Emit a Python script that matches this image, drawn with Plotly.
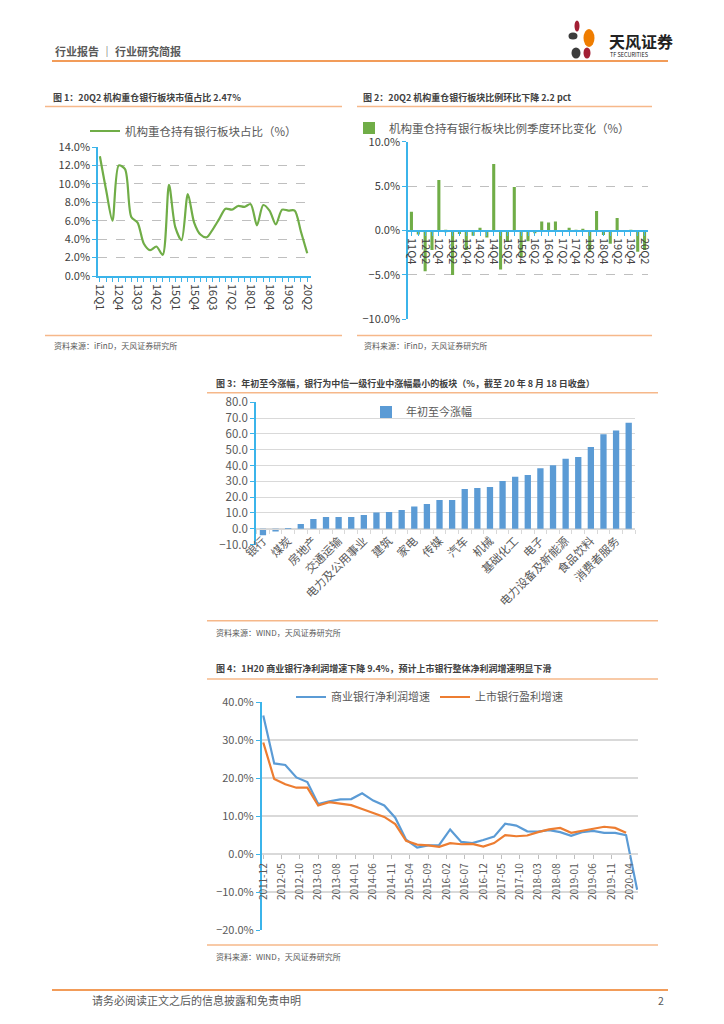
import plotly.graph_objects as go

W, H = 724, 1024
def X(px): return px / W
def Y(py): return 1 - py / H

FONT = "Noto Sans CJK SC"
CYAN = "#3BB4EA"
GREEN = "#70AD47"
BLUE = "#5B9BD5"
ORANGE = "#ED7D31"
SEC_ORANGE = "#F6B88A"
HEAD_ORANGE = "#EE7B22"
TXT = "#404040"
GRAY = "#595959"

# ---------------- data ----------------
# Chart 1
c1_name = "机构重仓持有银行板块占比（%）"
c1_quarters = ["12Q1", "12Q2", "12Q3", "12Q4", "13Q1", "13Q2", "13Q3", "13Q4",
               "14Q1", "14Q2", "14Q3", "14Q4", "15Q1", "15Q2", "15Q3", "15Q4",
               "16Q1", "16Q2", "16Q3", "16Q4", "17Q1", "17Q2", "17Q3", "17Q4",
               "18Q1", "18Q2", "18Q3", "18Q4", "19Q1", "19Q2", "19Q3", "19Q4",
               "20Q1", "20Q2"]
c1_values = [13.0, 9.3, 6.0, 12.0, 11.6, 6.4, 5.8, 3.5, 2.8, 3.2, 2.3, 9.9,
             5.3, 3.9, 8.9, 5.8, 4.5, 4.2, 5.1, 6.2, 7.3, 7.2, 7.6, 7.5,
             7.8, 5.5, 7.7, 7.1, 5.6, 7.2, 7.1, 7.1, 4.8, 2.47]

# Chart 2
c2_name = "机构重仓持有银行板块比例季度环比变化（%）"
c2_quarters = ["11Q4", "12Q1", "12Q2", "12Q3", "12Q4", "13Q1", "13Q2", "13Q3",
               "13Q4", "14Q1", "14Q2", "14Q3", "14Q4", "15Q1", "15Q2", "15Q3",
               "15Q4", "16Q1", "16Q2", "16Q3", "16Q4", "17Q1", "17Q2", "17Q3",
               "17Q4", "18Q1", "18Q2", "18Q3", "18Q4", "19Q1", "19Q2", "19Q3",
               "19Q4", "20Q1", "20Q2"]
c2_values = [2.1, -0.45, -4.6, -2.2, 5.7, -0.2, -5.0, -0.4, -2.2, -0.6, 0.3, -0.8,
             7.5, -4.4, -1.3, 4.9, -3.0, -1.2, -0.3, 1.0, 0.9, 1.0, 0.0, 0.3,
             -0.05, 0.15, -2.3, 2.2, -0.5, -1.5, 1.4, 0.0, -0.05, -2.4, -2.2]

# Chart 3
c3_name = "年初至今涨幅"
c3_industries = ["银行", "石油石化", "煤炭", "钢铁", "房地产", "综合金融", "交通运输",
                 "纺织服装", "电力及公用事业", "非银行金融", "建筑", "通信", "家电",
                 "商贸零售", "传媒", "综合", "汽车", "轻工制造", "机械", "计算机",
                 "基础化工", "建材", "电子", "有色金属", "电力设备及新能源", "农林牧渔",
                 "食品饮料", "医药", "消费者服务", "国防军工"]
c3_values = [-4.2, -1.8, -0.2, 3.0, 6.1, 7.4, 7.4, 7.4, 8.6, 10.3, 10.5, 11.8,
             14.1, 15.6, 18.1, 18.1, 25.1, 25.7, 26.4, 30.2, 32.9, 34.0, 38.2,
             40.1, 44.3, 45.4, 51.7, 59.7, 62.2, 67.1]

# Chart 4
c4_name_a = "商业银行净利润增速"
c4_name_b = "上市银行盈利增速"
c4_dates = ["2011-12", "2012-03", "2012-06", "2012-09", "2012-12", "2013-03",
            "2013-06", "2013-09", "2013-12", "2014-03", "2014-06", "2014-09",
            "2014-12", "2015-03", "2015-06", "2015-09", "2015-12", "2016-03",
            "2016-06", "2016-09", "2016-12", "2017-03", "2017-06", "2017-09",
            "2017-12", "2018-03", "2018-06", "2018-09", "2018-12", "2019-03",
            "2019-06", "2019-09", "2019-12", "2020-03", "2020-06"]
c4_commercial = [36.5, 23.9, 23.5, 20.2, 19.0, 13.2, 13.9, 14.4, 14.5, 16.0, 14.1,
                 12.8, 9.6, 3.8, 1.7, 2.3, 2.4, 6.5, 3.2, 2.9, 3.7, 4.6, 8.0, 7.5,
                 6.0, 5.9, 6.3, 5.8, 4.8, 5.8, 6.1, 5.6, 5.6, 5.0, -9.4]
c4_listed = [29.4, 19.8, 18.4, 17.5, 17.5, 12.8, 13.7, 13.2, 12.9, 11.9, 10.9,
             9.8, 7.9, 3.5, 2.5, 2.3, 1.9, 2.9, 2.6, 2.7, 2.0, 2.9, 5.0, 4.7,
             4.9, 5.8, 6.5, 6.9, 5.6, 6.1, 6.7, 7.2, 6.9, 5.6]

# ---------------- traces ----------------
fig = go.Figure()

fig.add_trace(go.Scatter(
    x=list(range(len(c1_values))), y=c1_values, mode="lines", name=c1_name,
    line=dict(color=GREEN, width=2.2, shape="spline", smoothing=0.8),
    xaxis="x", yaxis="y", legend="legend"))

fig.add_trace(go.Bar(
    x=list(range(len(c2_values))), y=c2_values, name=c2_name, width=0.45,
    marker=dict(color=GREEN, line=dict(width=0)),
    xaxis="x2", yaxis="y2", legend="legend2"))

fig.add_trace(go.Bar(
    x=list(range(len(c3_values))), y=c3_values, name=c3_name, width=0.5,
    marker=dict(color=BLUE, line=dict(width=0)),
    xaxis="x3", yaxis="y3", legend="legend3"))

fig.add_trace(go.Scatter(
    x=c4_dates, y=c4_commercial, mode="lines", name=c4_name_a,
    line=dict(color=BLUE, width=2.2), xaxis="x4", yaxis="y4", legend="legend4"))
fig.add_trace(go.Scatter(
    x=c4_dates[:len(c4_listed)], y=c4_listed, mode="lines", name=c4_name_b,
    line=dict(color=ORANGE, width=2.2), xaxis="x4", yaxis="y4", legend="legend4"))

# ---------------- axes ----------------
tick_font = dict(family=FONT, size=11, color=TXT)
tick_font_g = dict(family=FONT, size=10, color=GRAY)

c1_tick_idx = list(range(0, len(c1_quarters), 3))
c2_tick_idx = list(range(0, len(c2_quarters), 2))
c3_tick_idx = list(range(0, len(c3_industries), 2))

layout_axes = dict(
    xaxis=dict(domain=[X(98), X(311)], anchor="y", range=[-0.3, 33.6],
               tickmode="array", tickvals=c1_tick_idx,
               ticktext=[c1_quarters[i] for i in c1_tick_idx], tickangle=90,
               showline=True, linecolor=CYAN, linewidth=1.5, ticks="outside",
               ticklen=4, tickcolor=CYAN, showgrid=False, zeroline=False,
               minor=dict(dtick=1, tick0=0, ticks="outside", ticklen=4, tickcolor=CYAN),
               tickfont=tick_font, automargin=False),
    yaxis=dict(domain=[Y(276), Y(147)], anchor="x", range=[0, 14], dtick=2,
               tickformat=".1f", ticksuffix="%", showline=True, linecolor=CYAN,
               linewidth=1.5, ticks="outside", ticklen=4, tickcolor=CYAN,
               gridcolor="#BFBFBF", griddash="dash", zeroline=False,
               tickfont=tick_font, automargin=False),
    xaxis2=dict(domain=[X(408), X(648)], anchor="free", position=Y(231),
                range=[-0.5, 34.5], tickmode="array", tickvals=c2_tick_idx,
                ticktext=[c2_quarters[i] for i in c2_tick_idx], tickangle=90,
                showline=True, linecolor=CYAN, linewidth=1.5, ticks="outside",
                ticklen=4, tickcolor=CYAN, showgrid=False, zeroline=False,
                minor=dict(dtick=1, tick0=0, ticks="outside", ticklen=4, tickcolor=CYAN),
                tickfont=tick_font, automargin=False),
    yaxis2=dict(domain=[Y(319.3), Y(141.7)], anchor="x2", range=[-10, 10], dtick=5,
                tickformat=".1f", ticksuffix="%", showline=True, linecolor=CYAN,
                linewidth=1.5, ticks="outside", ticklen=4, tickcolor=CYAN,
                gridcolor="#BFBFBF", griddash="dash", zeroline=False,
                tickfont=tick_font, automargin=False),
    xaxis3=dict(domain=[X(256), X(635)], anchor="free", position=Y(528.7),
                range=[-0.55, 29.5], tickmode="array", tickvals=c3_tick_idx,
                ticktext=[c3_industries[i] for i in c3_tick_idx], tickangle=-45,
                showline=True, linecolor="#D9D9D9", linewidth=1, ticks="",
                showgrid=False, zeroline=False,
                minor=dict(dtick=1, tick0=0.5, ticks="outside", ticklen=4, tickcolor="#D9D9D9"),
                tickfont=dict(family=FONT, size=11.5, color=GRAY), automargin=False),
    yaxis3=dict(domain=[Y(544.5), Y(402.3)], anchor="x3", range=[-10, 80], dtick=10,
                tickformat=".1f", showline=True, linecolor=CYAN, linewidth=1.5,
                ticks="outside", ticklen=4, tickcolor=CYAN, gridcolor="#D9D9D9",
                gridwidth=1, zeroline=False,
                tickfont=dict(family=FONT, size=11.5, color=GRAY), automargin=False),
    xaxis4=dict(type="date", domain=[X(261.7), X(638)], anchor="free",
                position=Y(854.3), range=["2011-11-18", "2020-06-08"],
                tick0="2011-12-01", dtick="M5", tickformat="%Y-%m", tickangle=-90,
                showline=True, linecolor="#D9D9D9", linewidth=1, ticks="outside",
                ticklen=4, tickcolor="#BFBFBF", showgrid=False, zeroline=False,
                tickfont=tick_font_g, automargin=False),
    yaxis4=dict(domain=[Y(930), Y(702.3)], anchor="x4", range=[-20, 40], dtick=10,
                tickformat=".1f", ticksuffix="%", showline=True, linecolor=CYAN,
                linewidth=1.5, ticks="outside", ticklen=4, tickcolor=CYAN,
                gridcolor="#D9D9D9", gridwidth=1.5, zeroline=False,
                tickfont=dict(family=FONT, size=11, color=GRAY), automargin=False),
)

def legend_style(size):
    return dict(bgcolor="rgba(0,0,0,0)", borderwidth=0,
                font=dict(family=FONT, size=size, color=GRAY))

# ---------------- page decorations ----------------
shapes = []
def hline(y, x0, x1, color, width):
    shapes.append(dict(type="line", xref="paper", yref="paper", x0=X(x0), x1=X(x1),
                       y0=Y(y), y1=Y(y), line=dict(color=color, width=width)))

hline(61, 52, 668, HEAD_ORANGE, 1.5)
hline(990, 52, 668, HEAD_ORANGE, 1.5)
hline(106.5, 45, 342, SEC_ORANGE, 1.5)
hline(335.5, 45, 342, SEC_ORANGE, 1.5)
hline(106.5, 357, 652, SEC_ORANGE, 1.5)
hline(335.5, 357, 652, SEC_ORANGE, 1.5)
hline(392.7, 207, 658, SEC_ORANGE, 1.5)
hline(620.7, 207, 658, SEC_ORANGE, 1.5)
hline(679, 207, 658, SEC_ORANGE, 1.5)
hline(945, 207, 658, SEC_ORANGE, 1.5)

def ellipse(cx, cy, rx, ry, color):
    shapes.append(dict(type="circle", xref="paper", yref="paper",
                       x0=X(cx - rx), x1=X(cx + rx), y0=Y(cy + ry), y1=Y(cy - ry),
                       fillcolor=color, line=dict(width=0)))

# logo
ellipse(577, 26, 2.5, 5.5, "#A31F34")
ellipse(573, 36, 4.5, 3.5, "#3C3C3C")
ellipse(589, 38, 5.5, 9, "#EF7D00")
ellipse(587, 53, 3.5, 5.5, "#A31F34")
ellipse(576, 53, 4.5, 5.5, "#3C3C3C")

annotations = []
def text(x, y, s, size, color=GRAY, anchor="left", bold=False):
    annotations.append(dict(xref="paper", yref="paper", x=X(x), y=Y(y),
                            text=("<b>%s</b>" % s) if bold else s, showarrow=False,
                            xanchor=anchor, yanchor="middle",
                            font=dict(family=FONT, size=size, color=color)))

text(53, 51, "行业报告 ｜ 行业研究简报", 11, GRAY, bold=True)
text(607, 41, "天风证券", 16, "#222222", bold=True)
text(608, 55, "TF SECURITIES", 5.5, "#222222")
text(90, 1000, "请务必阅读正文之后的信息披露和免责申明", 11, GRAY)
text(666, 1000, "2", 10.5, GRAY, anchor="right")

text(51, 97, "图 1：20Q2 机构重仓银行板块市值占比 2.47%", 9, TXT, bold=True)
text(361, 97, "图 2：20Q2 机构重仓银行板块比例环比下降 2.2 pct", 9, TXT, bold=True)
text(214, 383, "图 3：年初至今涨幅，银行为中信一级行业中涨幅最小的板块（%，截至 20 年 8 月 18 日收盘）", 9, TXT, bold=True)
text(214, 668, "图 4：1H20 商业银行净利润增速下降 9.4%，预计上市银行整体净利润增速明显下滑", 9, TXT, bold=True)

text(52, 345, "资料来源：iFinD，天风证券研究所", 8, GRAY)
text(362, 345, "资料来源：iFinD，天风证券研究所", 8, GRAY)
text(214, 632, "资料来源：WIND，天风证券研究所", 8, GRAY)
text(214, 956, "资料来源：WIND，天风证券研究所", 8, GRAY)

fig.update_layout(
    width=W, height=H, autosize=False,
    margin=dict(l=0, r=0, t=0, b=0, pad=0),
    paper_bgcolor="white", plot_bgcolor="white",
    font=dict(family=FONT, color=GRAY),
    showlegend=True,
    legend=dict(x=X(85), y=Y(131), xanchor="left", yanchor="middle", **legend_style(11.5)),
    legend2=dict(x=X(349), y=Y(128), xanchor="left", yanchor="middle", **legend_style(11.5)),
    legend3=dict(x=X(366), y=Y(412), xanchor="left", yanchor="middle", **legend_style(11)),
    legend4=dict(x=X(291), y=Y(697), xanchor="left", yanchor="middle",
                 orientation="h", **legend_style(11)),
    shapes=shapes, annotations=annotations,
    **layout_axes,
)

fig.write_html("out.html", config={"displayModeBar": False},
               post_script="document.body.style.margin='0';document.body.style.overflow='hidden';")
